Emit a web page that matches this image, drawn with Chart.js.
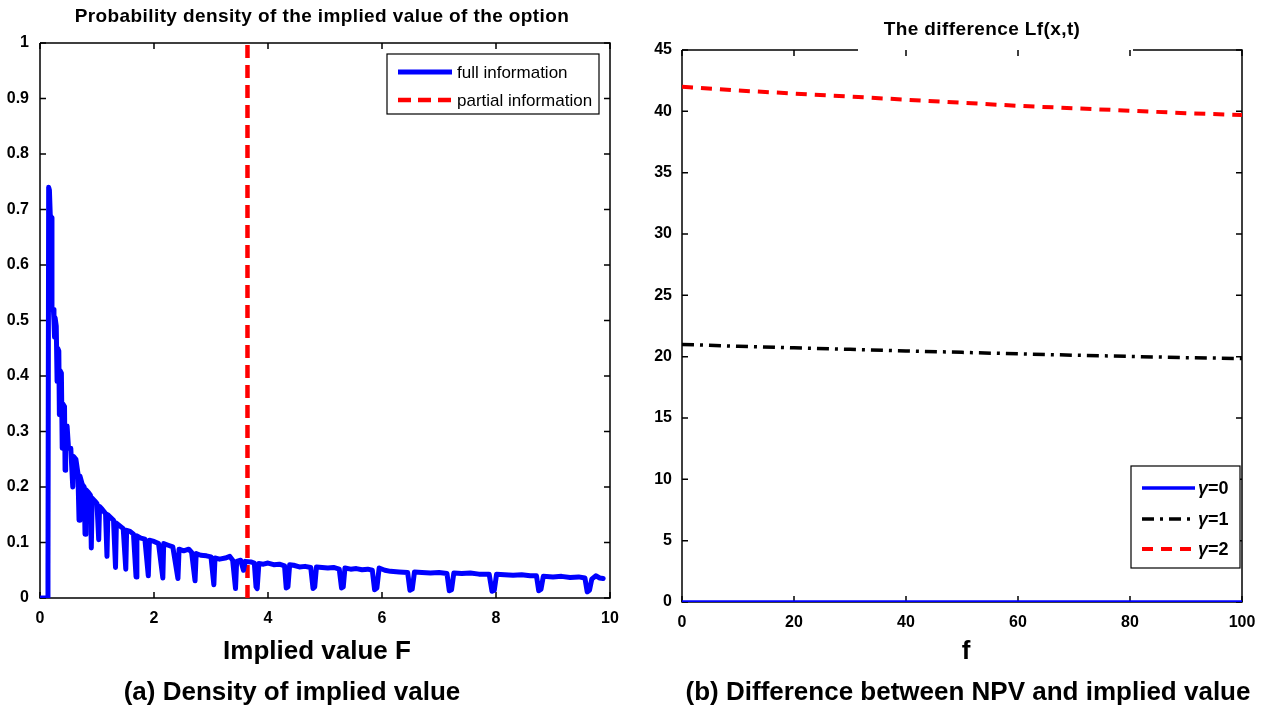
<!DOCTYPE html>
<html>
<head>
<meta charset="utf-8">
<script src="https://cdn.jsdelivr.net/npm/chart.js@4.4.1/dist/chart.umd.min.js"></script>
<style>
  html, body { margin: 0; padding: 0; background: #fff; }
  #wrap { position: relative; width: 1268px; height: 711px; overflow: hidden; font-family: 'Liberation Sans', Arial, sans-serif; }
  canvas { position: absolute; top: 0; }
  .lbl { position: absolute; transform: translate(-50%, -50%); white-space: nowrap; font-weight: bold; color: #000; font-size: 26px; }
</style>
</head>
<body>
<div id="wrap">
  <canvas id="graficoDensidade" width="640" height="711" style="left:0"></canvas>
  <canvas id="graficoDiferenca" width="628" height="711" style="left:640px"></canvas>
  <div class="lbl" style="left:317px; top:650px;">Implied value F</div>
  <div class="lbl" style="left:292px; top:691px;">(a) Density of implied value</div>
  <div class="lbl" style="left:966px; top:650px;">f</div>
  <div class="lbl" style="left:968px; top:691px;">(b) Difference between NPV and implied value</div>
</div>
<script>
// (a) densidade do valor implícito
const densX = [
  0, 0.125, 0.14, 0.152, 0.165, 0.18, 0.205, 0.21, 0.235, 0.245,
  0.255, 0.265, 0.285, 0.30, 0.31, 0.33, 0.34, 0.35, 0.375, 0.39,
  0.40, 0.43, 0.44, 0.45, 0.475, 0.50, 0.54, 0.575, 0.59, 0.63,
  0.665, 0.685, 0.70, 0.74, 0.775, 0.79, 0.805, 0.85, 0.885, 0.90,
  0.915, 0.96, 1.0, 1.03, 1.045, 1.09, 1.15, 1.175, 1.19, 1.24,
  1.29, 1.325, 1.34, 1.40, 1.46, 1.505, 1.52, 1.58, 1.64, 1.685,
  1.70, 1.77, 1.84, 1.90, 1.92, 2.0, 2.08, 2.155, 2.17, 2.25,
  2.33, 2.42, 2.44, 2.52, 2.61, 2.66, 2.72, 2.74, 2.82, 2.92,
  3.0, 3.05, 3.07, 3.15, 3.25, 3.33, 3.38, 3.43, 3.45, 3.52,
  3.57, 3.60, 3.70, 3.76, 3.79, 3.81, 3.84, 3.92, 4.0, 4.1,
  4.2, 4.29, 4.32, 4.35, 4.38, 4.45, 4.55, 4.65, 4.75, 4.79,
  4.82, 4.85, 4.95, 5.05, 5.15, 5.25, 5.29, 5.32, 5.35, 5.45,
  5.55, 5.65, 5.75, 5.83, 5.87, 5.91, 5.95, 6.05, 6.15, 6.3,
  6.45, 6.49, 6.53, 6.57, 6.7, 6.85, 7.0, 7.14, 7.18, 7.22,
  7.26, 7.4, 7.55, 7.7, 7.88, 7.93, 7.97, 8.01, 8.15, 8.3,
  8.45, 8.6, 8.71, 8.75, 8.79, 8.83, 9.0, 9.15, 9.3, 9.45,
  9.56, 9.60, 9.64, 9.68, 9.75, 9.82, 9.88
];
const densY = [
  0, 0, 0.05, 0.74, 0.735, 0.69, 0.685, 0.52, 0.52, 0.50,
  0.47, 0.505, 0.49, 0.39, 0.45, 0.445, 0.33, 0.41, 0.405, 0.27,
  0.35, 0.345, 0.23, 0.31, 0.31, 0.27, 0.27, 0.20, 0.255, 0.25,
  0.225, 0.14, 0.22, 0.205, 0.20, 0.115, 0.195, 0.19, 0.185, 0.09,
  0.18, 0.175, 0.17, 0.105, 0.165, 0.16, 0.152, 0.075, 0.15, 0.145,
  0.14, 0.055, 0.135, 0.13, 0.125, 0.052, 0.122, 0.12, 0.115, 0.038,
  0.112, 0.108, 0.106, 0.04, 0.104, 0.102, 0.098, 0.036, 0.098, 0.095,
  0.092, 0.035, 0.088, 0.085, 0.088, 0.082, 0.031, 0.08, 0.077, 0.076,
  0.074, 0.024, 0.072, 0.07, 0.072, 0.075, 0.068, 0.017, 0.066, 0.068,
  0.05, 0.066, 0.065, 0.063, 0.02, 0.017, 0.062, 0.061, 0.063, 0.06,
  0.061, 0.058, 0.018, 0.02, 0.06, 0.059, 0.056, 0.057, 0.055, 0.017,
  0.02, 0.056, 0.055, 0.054, 0.055, 0.052, 0.018, 0.02, 0.054, 0.052,
  0.053, 0.051, 0.052, 0.05, 0.015, 0.018, 0.054, 0.05, 0.048, 0.047,
  0.046, 0.014, 0.016, 0.047, 0.046, 0.045, 0.046, 0.044, 0.013, 0.015,
  0.045, 0.044, 0.045, 0.043, 0.043, 0.012, 0.014, 0.043, 0.042, 0.041,
  0.042, 0.04, 0.04, 0.013, 0.016, 0.039, 0.038, 0.039, 0.037, 0.038,
  0.036, 0.011, 0.014, 0.034, 0.04, 0.036, 0.035
];
const parcialX = [3.64, 3.64];
const parcialY = [0, 1];
const ticksXDens = [0, 2, 4, 6, 8, 10];
const ticksYDens = [0, 0.1, 0.2, 0.3, 0.4, 0.5, 0.6, 0.7, 0.8, 0.9, 1];

// (b) diferença Lf(x,t)
const valoresF = [0, 10, 20, 30, 40, 50, 60, 70, 80, 90, 100];
const gama0 = [0, 0, 0, 0, 0, 0, 0, 0, 0, 0, 0];
const gama1 = [21.0, 20.85, 20.72, 20.6, 20.47, 20.35, 20.23, 20.12, 20.02, 19.92, 19.85];
const gama2 = [42.0, 41.7, 41.45, 41.2, 40.95, 40.7, 40.45, 40.25, 40.05, 39.85, 39.7];
const ticksXDif = [0, 20, 40, 60, 80, 100];
const ticksYDif = [0, 5, 10, 15, 20, 25, 30, 35, 40, 45];

const fonte = "'Liberation Sans', Arial, sans-serif";
const pontos = (xs, ys) => xs.map((x, i) => ({ x, y: ys[i] }));

// moldura estilo matlab, com marcas para dentro
const pluginMoldura = {
  id: 'moldura',
  beforeDatasetsDraw(chart, args, opts) {
    const { ctx, chartArea: a, scales: { x, y } } = chart;
    ctx.save();
    ctx.strokeStyle = '#000';
    ctx.lineWidth = 1.5;
    ctx.beginPath();
    x.ticks.forEach(t => {
      const px = x.getPixelForValue(t.value);
      ctx.moveTo(px, a.bottom); ctx.lineTo(px, a.bottom - 6);
      ctx.moveTo(px, a.top); ctx.lineTo(px, a.top + 6);
    });
    y.ticks.forEach(t => {
      const py = y.getPixelForValue(t.value);
      ctx.moveTo(a.left, py); ctx.lineTo(a.left + 6, py);
      ctx.moveTo(a.right, py); ctx.lineTo(a.right - 6, py);
    });
    ctx.stroke();
    ctx.beginPath();
    ctx.moveTo(a.left, a.top); ctx.lineTo(a.left, a.bottom);
    ctx.lineTo(a.right, a.bottom); ctx.lineTo(a.right, a.top);
    if (opts.gap) {
      ctx.lineTo(opts.gap[1], a.top);
      ctx.moveTo(opts.gap[0], a.top);
    }
    ctx.lineTo(a.left, a.top);
    ctx.stroke();
    ctx.restore();
  },
  afterDraw(chart, args, opts) {
    const ctx = chart.ctx;
    ctx.save();
    ctx.fillStyle = '#000';
    ctx.font = 'bold ' + opts.titleSize + 'px ' + fonte;
    ctx.letterSpacing = '0.4px';
    ctx.textAlign = 'center';
    ctx.textBaseline = 'middle';
    ctx.fillText(opts.title, opts.titleX, opts.titleY);
    ctx.restore();
  }
};

// legenda com caixa, dentro da área
const pluginLegenda = {
  id: 'legendaCaixa',
  afterDatasetsDraw(chart, args, opts) {
    const ctx = chart.ctx;
    const b = opts.box;
    ctx.save();
    ctx.fillStyle = '#fff';
    ctx.fillRect(b[0], b[1], b[2] - b[0], b[3] - b[1]);
    ctx.strokeStyle = '#000';
    ctx.lineWidth = 1.2;
    ctx.strokeRect(b[0], b[1], b[2] - b[0], b[3] - b[1]);
    chart.data.datasets.forEach((ds, i) => {
      const yy = opts.rows[i];
      ctx.beginPath();
      ctx.strokeStyle = ds.borderColor;
      ctx.lineWidth = ds.borderWidth;
      ctx.setLineDash(ds.borderDash || []);
      ctx.moveTo(opts.sample[0], yy);
      ctx.lineTo(opts.sample[1], yy);
      ctx.stroke();
      ctx.setLineDash([]);
      ctx.fillStyle = '#000';
      ctx.textBaseline = 'middle';
      ctx.textAlign = 'left';
      if (opts.gamma) {
        ctx.font = 'italic bold ' + opts.size + 'px ' + fonte;
        ctx.fillText('γ', opts.textX, yy + 1);
        const w = ctx.measureText('γ').width;
        ctx.font = 'bold ' + opts.size + 'px ' + fonte;
        ctx.fillText(ds.label.slice(1), opts.textX + w, yy + 1);
      } else {
        ctx.font = opts.size + 'px ' + fonte;
        ctx.fillText(ds.label, opts.textX, yy + 1);
      }
    });
    ctx.restore();
  }
};

function eixo(min, max, ticks, lado, padding, tamanho) {
  return {
    type: 'linear', min, max,
    grid: { display: false, drawTicks: false },
    border: { display: false },
    afterBuildTicks: s => { s.ticks = ticks.map(v => ({ value: v })); },
    afterFit: s => { if (lado === 'x') s.height = tamanho; else s.width = tamanho; },
    ticks: {
      color: '#000', padding,
      font: { family: fonte, size: 16, weight: 'bold' },
      callback: v => String(Math.round(v * 100) / 100)
    }
  };
}

Chart.defaults.animation = false;

new Chart(document.getElementById('graficoDensidade'), {
  type: 'scatter',
  data: {
    datasets: [
      { label: 'full information', data: pontos(densX, densY), showLine: true, borderColor: '#0000ff',
        borderWidth: 5, pointRadius: 0, borderJoinStyle: 'round', borderCapStyle: 'round' },
      { label: 'partial information', data: pontos(parcialX, parcialY), showLine: true, borderColor: '#ff0000',
        borderWidth: 4.5, borderDash: [13, 7], pointRadius: 0 }
    ]
  },
  options: {
    responsive: false, devicePixelRatio: 1,
    layout: { padding: { left: 0, top: 43, right: 30, bottom: 73 } },
    plugins: {
      legend: { display: false }, tooltip: { enabled: false },
      moldura: { title: 'Probability density of the implied value of the option', titleX: 322, titleY: 17, titleSize: 19 },
      legendaCaixa: { box: [387, 54, 599, 114], rows: [72, 100], sample: [398, 452], textX: 457, size: 17 }
    },
    scales: {
      x: eixo(0, 10, ticksXDens, 'x', 11, 40),
      y: eixo(0, 1, ticksYDens, 'y', 11, 40)
    }
  },
  plugins: [pluginMoldura, pluginLegenda]
});

new Chart(document.getElementById('graficoDiferenca'), {
  type: 'scatter',
  data: {
    datasets: [
      { label: 'γ=0', data: pontos(valoresF, gama0), showLine: true, borderColor: '#0000ff', borderWidth: 3.5, pointRadius: 0 },
      { label: 'γ=1', data: pontos(valoresF, gama1), showLine: true, borderColor: '#000000', borderWidth: 3.5,
        borderDash: [12, 6, 3, 6], pointRadius: 0 },
      { label: 'γ=2', data: pontos(valoresF, gama2), showLine: true, borderColor: '#ff0000', borderWidth: 4,
        borderDash: [11, 8], pointRadius: 0 }
    ]
  },
  options: {
    responsive: false, devicePixelRatio: 1,
    layout: { padding: { left: 0, top: 50, right: 26, bottom: 69 } },
    plugins: {
      legend: { display: false }, tooltip: { enabled: false },
      moldura: { title: 'The difference Lf(x,t)', titleX: 342, titleY: 30, titleSize: 19, gap: [218, 493] },
      legendaCaixa: { box: [491, 466, 600, 568], rows: [488, 519, 549], sample: [502, 555], textX: 558, size: 18, gamma: true }
    },
    scales: {
      x: eixo(0, 100, ticksXDif, 'x', 11, 40),
      y: eixo(0, 45, ticksYDif, 'y', 10, 42)
    }
  },
  plugins: [pluginMoldura, pluginLegenda]
});
</script>
</body>
</html>
